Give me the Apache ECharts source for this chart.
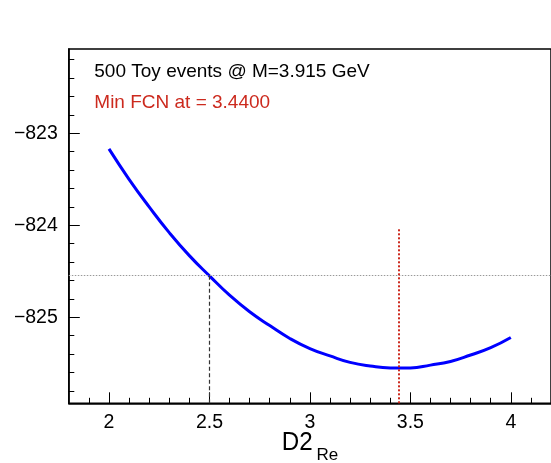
<!DOCTYPE html>
<html><head><meta charset="utf-8">
<script src="https://cdn.jsdelivr.net/npm/echarts@6/dist/echarts.min.js"></script>
<style>html,body{margin:0;padding:0;background:#fff}#c{width:551px;height:463px}</style>
</head><body><div id="c"></div>
<script>
// Data
var xValues = [2.0,2.1,2.2,2.3,2.4,2.5,2.6,2.7,2.8,2.9,3.0,3.1,3.2,3.3,3.4,3.44,3.5,3.6,3.7,3.8,3.9,4.0];
var fcnValues = [-823.17,-823.50,-823.80,-824.08,-824.33,-824.55,-824.76,-824.94,-825.09,-825.23,-825.34,-825.42,-825.49,-825.53,-825.55,-825.55,-825.55,-825.52,-825.48,-825.41,-825.33,-825.22];
var xMajorTicks = [2,2.5,3,3.5,4];
var xMinorTicks = [1.9,2.0,2.1,2.2,2.3,2.4,2.5,2.6,2.7,2.8,2.9,3.0,3.1,3.2,3.3,3.4,3.5,3.6,3.7,3.8,3.9,4.0,4.1];
var yMajorTicks = [-825,-824,-823];
var yMinorTicks = [-825.8,-825.6,-825.4,-825.2,-825,-824.8,-824.6,-824.4,-824.2,-824,-823.8,-823.6,-823.4,-823.2,-823,-822.8,-822.6,-822.4,-822.2];
var xRange = [1.8, 4.2];
var yRange = [-825.935, -822.084];
var minX = 3.44;
var redLineTop = -824.04;
var errLevel = -824.546;
var errX = 2.5;
var line1 = '500 Toy events @ M=3.915 GeV';
var line2 = 'Min FCN at = 3.4400';

var FONT = '"Liberation Sans", Arial, sans-serif';
var chart = echarts.init(document.getElementById('c'), null, {renderer:'canvas'});
var pts = xValues.map(function(x,i){return [x, fcnValues[i]];});
function fmt(v){ return String(v).replace('-', '\u2212'); }

var baseX = {type:'value', min:xRange[0], max:xRange[1], position:'bottom', splitLine:{show:false}};
var baseY = {type:'value', min:yRange[0], max:yRange[1], position:'left', splitLine:{show:false}};

chart.setOption({
  animation:false,
  grid:{left:68.8, top:49, width:485.4, bottom:59.7, show:true, borderColor:'#000', borderWidth:1.5, backgroundColor:'transparent'},
  xAxis:[
    Object.assign({}, baseX, {
      axisLine:{show:true, lineStyle:{color:'#000', width:1.5}},
      axisTick:{show:true, inside:true, length:11, customValues:xMajorTicks, lineStyle:{color:'#000', width:1}},
      axisLabel:{show:true, customValues:xMajorTicks, margin:9, color:'#000', fontSize:19.5, fontFamily:FONT}
    }),
    Object.assign({}, baseX, {
      axisLine:{show:false},
      axisTick:{show:true, inside:true, length:5.5, customValues:xMinorTicks, lineStyle:{color:'#000', width:1}},
      axisLabel:{show:false}
    })
  ],
  yAxis:[
    Object.assign({}, baseY, {
      axisLine:{show:true, lineStyle:{color:'#000', width:1.5}},
      axisTick:{show:true, inside:true, length:11, customValues:yMajorTicks, lineStyle:{color:'#000', width:1}},
      axisLabel:{show:true, customValues:yMajorTicks, margin:11, color:'#000', fontSize:19.5, fontFamily:FONT, formatter:fmt}
    }),
    Object.assign({}, baseY, {
      axisLine:{show:false},
      axisTick:{show:true, inside:true, length:5.5, customValues:yMinorTicks, lineStyle:{color:'#000', width:1}},
      axisLabel:{show:false}
    })
  ],
  series:[{
    type:'line', data:pts, smooth:true, showSymbol:false, xAxisIndex:0, yAxisIndex:0,
    lineStyle:{color:'#0000ff', width:3}, z:3,
    markLine:{
      silent:true, symbol:['none','none'], label:{show:false}, animation:false,
      data:[
        [{coord:[xRange[0], errLevel], lineStyle:{color:'#999', width:1, type:[1.5,1.5]}}, {coord:[xRange[1], errLevel]}],
        [{coord:[errX, yRange[0]], lineStyle:{color:'#333', width:1.2, type:[4,2.5]}}, {coord:[errX, errLevel]}],
        [{coord:[minX, yRange[0]], lineStyle:{color:'#cc2a1e', width:2, type:[2,2]}}, {coord:[minX, redLineTop]}]
      ]
    }
  }],
  graphic:[
    {type:'text', x:94.3, y:62, style:{text:line1, font:'19px '+FONT, fill:'#000'}},
    {type:'text', x:94.3, y:93, style:{text:line2, font:'19px '+FONT, fill:'#cc2a1e'}},
    {type:'text', x:281.7, y:430, scaleX:0.93, style:{text:'D2', font:'26px '+FONT, fill:'#000'}},
    {type:'text', x:316.5, y:447, style:{text:'Re', font:'17px '+FONT, fill:'#000'}}
  ]
});
</script></body></html>
